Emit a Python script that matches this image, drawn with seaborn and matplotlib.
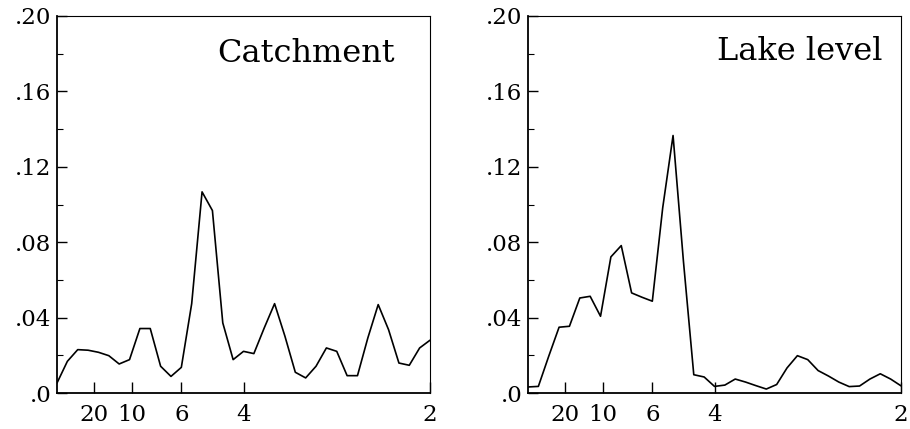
import numpy as np
import pandas as pd
import matplotlib
matplotlib.use("Agg")
import matplotlib.pyplot as plt
import seaborn as sns

# Frequencies k/72, k = 0..36 (cycles per year)
n_points = 37
frequency = [k / 72 for k in range(n_points)]

catchment = [0.0053, 0.0168, 0.0230, 0.0227, 0.0216, 0.0198, 0.0154, 0.0177,
             0.0342, 0.0342, 0.0142, 0.0088, 0.0136, 0.0474, 0.1067, 0.0968,
             0.0372, 0.0177, 0.0221, 0.0209, 0.0345, 0.0474, 0.0301, 0.0110,
             0.0080, 0.0142, 0.0239, 0.0221, 0.0092, 0.0092, 0.0292, 0.0469,
             0.0336, 0.0159, 0.0147, 0.0239, 0.0280]

lake_level = [0.0032, 0.0035, 0.0195, 0.0349, 0.0354, 0.0504, 0.0513, 0.0407,
              0.0722, 0.0782, 0.0531, 0.0508, 0.0487, 0.0982, 0.1366, 0.0700,
              0.0097, 0.0085, 0.0035, 0.0042, 0.0074, 0.0058, 0.0039, 0.0021,
              0.0045, 0.0133, 0.0198, 0.0177, 0.0119, 0.0090, 0.0058, 0.0034,
              0.0037, 0.0074, 0.0102, 0.0074, 0.0038]

period_labels = ["20", "10", "6", "4", "2"]
periods = [20, 10, 6, 4, 2]
y_ticks = [0.0, 0.04, 0.08, 0.12, 0.16, 0.20]
y_tick_labels = [".0", ".04", ".08", ".12", ".16", ".20"]
titles = ["Catchment", "Lake level"]

sns.set_style("ticks")
plt.rcParams["font.family"] = ["DejaVu Serif", "DejaVu Sans"]
plt.rcParams["text.color"] = "black"
plt.rcParams["xtick.color"] = "black"
plt.rcParams["ytick.color"] = "black"
plt.rcParams["axes.labelcolor"] = "black"

fig = plt.figure(figsize=(9.10, 4.29), dpi=100)
ax1 = fig.add_axes([57 / 910, 36 / 429, 373 / 910, 377 / 429])
ax2 = fig.add_axes([528 / 910, 36 / 429, 373 / 910, 377 / 429])

series = [catchment, lake_level]
title_pos = [(0.905, 0.90), (0.95, 0.905)]

for ax, vals, title, (tx, ty) in zip([ax1, ax2], series, titles, title_pos):
    df = pd.DataFrame({"frequency": frequency, "density": vals})
    sns.lineplot(data=df, x="frequency", y="density", ax=ax,
                 color="black", linewidth=1.2)
    ax.set_xlim(0, 0.5)
    ax.set_ylim(0, 0.2)
    ax.set_xlabel("")
    ax.set_ylabel("")
    ax.set_xticks([1 / p for p in periods])
    ax.set_xticklabels(period_labels)
    ax.set_yticks(y_ticks)
    ax.set_yticklabels(y_tick_labels)
    ax.set_yticks([0.02, 0.06, 0.10, 0.14, 0.18], minor=True)
    ax.tick_params(axis="y", which="major", direction="in", length=7,
                   width=1.0, labelsize=16.5, pad=4, right=False,
                   colors="black")
    ax.tick_params(axis="y", which="minor", direction="in", length=4,
                   width=0.8, right=False, colors="black")
    ax.tick_params(axis="x", which="major", direction="in", length=8,
                   width=1.0, labelsize=16.5, pad=8, top=False,
                   colors="black")
    for side in ["top", "right", "left", "bottom"]:
        ax.spines[side].set_visible(True)
        ax.spines[side].set_color("black")
    ax.spines["left"].set_linewidth(1.3)
    ax.spines["bottom"].set_linewidth(1.3)
    ax.spines["top"].set_linewidth(0.8)
    ax.spines["right"].set_linewidth(0.8)
    ax.text(tx, ty, title, transform=ax.transAxes, ha="right", va="center",
            fontsize=23, color="black")

fig.savefig("out.png", dpi=100)
